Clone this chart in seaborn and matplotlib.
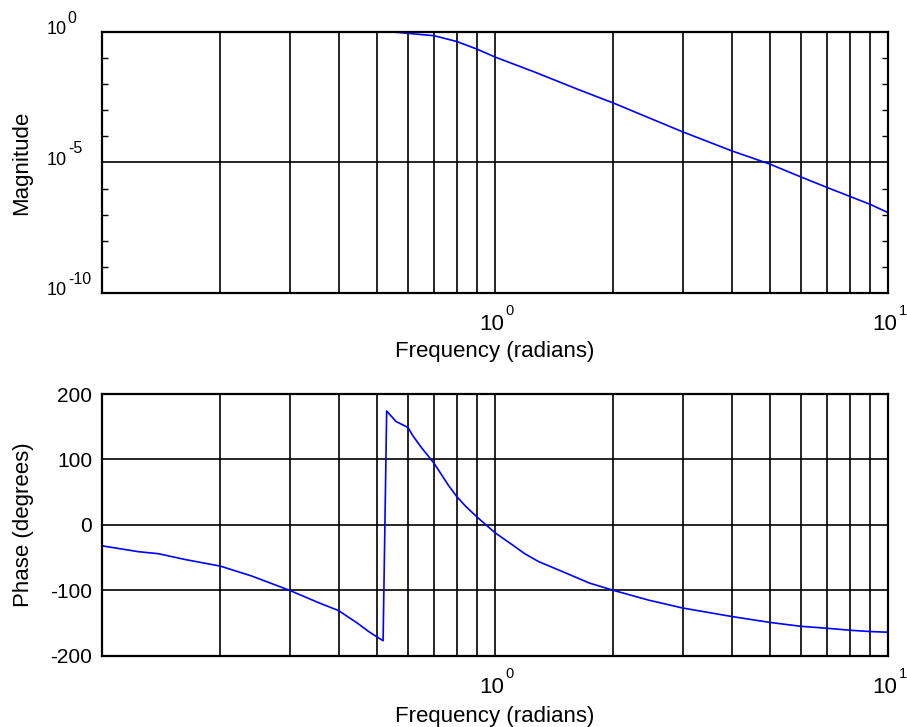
import numpy as np
import pandas as pd
import matplotlib
matplotlib.use("Agg")
import matplotlib.pyplot as plt
import seaborn as sns

# Réponse fréquentielle (Bode)
mag_freq = [0.1, 0.2, 0.3, 0.4, 0.5, 0.55, 0.6, 0.7, 0.8, 0.9, 1.0,
            1.27, 1.64, 2.0, 3.0, 4.0, 5.0, 6.0, 7.0, 8.0, 9.0, 10.0]
mag_vals = [1.0, 1.0, 1.0, 1.0, 1.0, 1.0, 0.89, 0.72, 0.43, 0.22, 0.11,
            2.8e-2, 6.0e-3, 1.9e-3, 1.5e-4, 2.8e-5, 8.7e-6, 2.8e-6, 1.1e-6,
            5.0e-7, 2.5e-7, 1.2e-7]

phase_freq = [0.1, 0.11, 0.124, 0.139, 0.163, 0.2, 0.24, 0.3, 0.356, 0.4,
              0.446, 0.477, 0.5, 0.519, 0.53, 0.56, 0.60, 0.62, 0.65, 0.70,
              0.76, 0.80, 0.84, 0.90, 1.0, 1.11, 1.19, 1.29, 1.52, 1.74,
              2.0, 2.46, 3.0, 4.0, 5.0, 6.0, 7.0, 8.0, 9.0, 10.0]
phase_vals = [-32, -36, -41, -44, -53, -63, -78, -100, -119, -131,
              -150, -163, -171, -177, 174, 158, 149, 135, 118, 94,
              61, 43, 29, 12, -12, -31, -44, -56, -74, -89,
              -100, -115, -127, -140, -149, -155, -158, -161, -163, -164]

x_ticks = [1, 10]
x_exponents = ["0", "1"]
x_minor = [0.2, 0.3, 0.4, 0.5, 0.6, 0.7, 0.8, 0.9, 2, 3, 4, 5, 6, 7, 8, 9]
mag_ticks = [1e-10, 1e-5, 1]
mag_exponents = ["-10", "-5", "0"]
phase_ticks = [-200, -100, 0, 100, 200]

sns.set_style("white")
plt.rcParams['font.family'] = ['Liberation Sans', 'DejaVu Sans']
plt.rcParams['axes.unicode_minus'] = False
plt.rcParams['text.color'] = 'black'
plt.rcParams['axes.labelcolor'] = 'black'
plt.rcParams['xtick.color'] = 'black'
plt.rcParams['ytick.color'] = 'black'

fig = plt.figure(figsize=(9.07, 7.27), dpi=100)
ax1 = fig.add_axes([0.1125, 0.597, 0.8666, 0.359])
ax2 = fig.add_axes([0.1125, 0.098, 0.8666, 0.360])

mag_df = pd.DataFrame({"freq": mag_freq, "mag": mag_vals})
phase_df = pd.DataFrame({"freq": phase_freq, "phase": phase_vals})

sns.lineplot(data=mag_df, x="freq", y="mag", ax=ax1, color="#0000FF",
             linewidth=1.2, estimator=None, sort=False)
sns.lineplot(data=phase_df, x="freq", y="phase", ax=ax2, color="#0000FF",
             linewidth=1.2, estimator=None, sort=False)


def power_label_x(ax, tick, exp):
    # "10" + exposant, façon MATLAB
    ax.annotate("10", xy=(tick, 0), xycoords=("data", "axes fraction"),
                xytext=(6.7, -26.6), textcoords="offset points",
                ha="right", va="baseline", fontsize=16, annotation_clip=False)
    ax.annotate(exp, xy=(tick, 0), xycoords=("data", "axes fraction"),
                xytext=(7.6, -15.8), textcoords="offset points",
                ha="left", va="baseline", fontsize=10.5, annotation_clip=False)


def power_label_y(ax, tick, exp):
    ax.annotate("10", xy=(0, tick), xycoords=("axes fraction", "data"),
                xytext=(-25.2, -1.5), textcoords="offset points",
                ha="right", va="baseline", fontsize=13, annotation_clip=False)
    ax.annotate(exp, xy=(0, tick), xycoords=("axes fraction", "data"),
                xytext=(-24.6, 6.5), textcoords="offset points",
                ha="left", va="baseline", fontsize=11.5, annotation_clip=False)


for ax in (ax1, ax2):
    ax.set_xscale("log")
    ax.set_xlim(0.1, 10)
    ax.set_xticks(x_ticks)
    ax.set_xticklabels(["" for _ in x_ticks])
    ax.set_xticks(x_minor, minor=True)
    ax.xaxis.set_minor_formatter(matplotlib.ticker.NullFormatter())
    ax.tick_params(axis="x", which="both", length=0)
    ax.grid(True, axis="x", which="both", color="black", linewidth=1.2)
    ax.set_xlabel("Frequency (radians)", fontsize=16, va="top")
    for t, e in zip(x_ticks, x_exponents):
        power_label_x(ax, t, e)
    for s in ax.spines.values():
        s.set_color("black")
        s.set_linewidth(1.6)
    ax.set_axisbelow(True)

ax1.xaxis.set_label_coords(0.5, -0.184)
ax2.xaxis.set_label_coords(0.5, -0.191)

ax1.set_yscale("log")
ax1.set_ylim(1e-10, 1)
ax1.set_yticks(mag_ticks)
ax1.set_yticklabels(["" for _ in mag_ticks])
ax1.set_yticks([10.0 ** -k for k in range(1, 10) if k != 5], minor=True)
ax1.yaxis.set_minor_formatter(matplotlib.ticker.NullFormatter())
ax1.tick_params(axis="y", which="major", length=0)
ax1.tick_params(axis="y", which="minor", direction="in", length=4,
                width=1, left=True, right=True, color="black")
ax1.grid(True, axis="y", which="major", color="black", linewidth=1.2)
for t, e in zip(mag_ticks, mag_exponents):
    power_label_y(ax1, t, e)
ax1.set_ylabel("Magnitude", fontsize=16)
ax1.yaxis.set_label_coords(-0.089, 0.5)

ax2.set_ylim(-200, 200)
ax2.set_yticks(phase_ticks)
ax2.set_yticklabels([str(v) for v in phase_ticks], fontsize=15)
ax2.tick_params(axis="y", length=0, pad=7)
ax2.grid(True, axis="y", which="major", color="black", linewidth=1.2)
ax2.set_ylabel("Phase (degrees)", fontsize=16)
ax2.yaxis.set_label_coords(-0.086, 0.5)

fig.savefig("out.png", dpi=100)
